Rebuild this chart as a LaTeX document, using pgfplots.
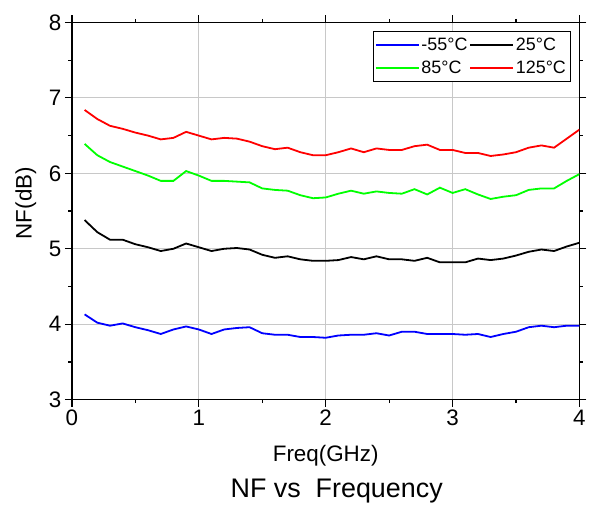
\documentclass[border=0pt]{standalone}
\usepackage{fontspec}
\setmainfont{Liberation Sans}
\usepackage{pgfplots}
\pgfplotsset{compat=1.18}
\definecolor{gridgray}{RGB}{200,200,200}
\begin{document}
\begin{tikzpicture}
\path (0,0) rectangle (589bp,504bp);
\begin{axis}[
  at={(72bp,104bp)}, anchor=south west,
  scale only axis, width=508bp, height=377.5bp,
  xmin=0, xmax=4, ymin=3, ymax=8,
  xtick={0,1,2,3,4}, ytick={3,4,5,6,7,8},
  minor x tick num=1, minor y tick num=1,
  tick align=outside,
  major tick length=7bp, minor tick length=3.5bp,
  every tick/.style={black, line width=1.2bp},
  axis line style={black, line width=1.6bp},
  grid=major,
  major grid style={gridgray, line width=0.9bp},
  /pgf/number format/assume math mode=true,
  tick label style={font=\fontsize{22.5}{26}\selectfont},
  every axis x label/.style={at={(axis description cs:0.5,0)}, anchor=center, yshift=-56bp},
  every axis y label/.style={at={(axis description cs:-0.0906,0.521)}, anchor=center, rotate=90},
  label style={font=\fontsize{22.5}{26}\selectfont},
  xlabel={Freq(GHz)},
  ylabel={NF(dB)},
  legend columns=2,
  legend cell align=left,
  legend style={at={(rel axis cs:0.982,0.977)}, anchor=north east,
    draw=black, line width=0.8bp,
    font=\fontsize{18}{20}\selectfont,
    inner xsep=2bp, inner ysep=2bp,
    row sep=0bp,
    /tikz/every even column/.append style={column sep=0bp},
    nodes={inner xsep=2bp, inner ysep=4.5bp}},
  legend image code/.code={\draw[#1, line width=1.5bp] (0bp,0bp) -- (43bp,0bp);},
  clip=true,
]
\addplot[blue, line width=1.8bp] coordinates {
(0.1,4.13)(0.2,4.02)(0.3,3.98)(0.4,4.01)(0.5,3.96)(0.6,3.92)(0.7,3.87)(0.8,3.93)(0.9,3.97)(1.0,3.93)
(1.1,3.87)(1.2,3.93)(1.3,3.95)(1.4,3.96)(1.5,3.88)(1.6,3.86)(1.7,3.86)(1.8,3.83)(1.9,3.83)(2.0,3.82)
(2.1,3.85)(2.2,3.86)(2.3,3.86)(2.4,3.88)(2.5,3.85)(2.6,3.90)(2.7,3.90)(2.8,3.87)(2.9,3.87)(3.0,3.87)
(3.1,3.86)(3.2,3.87)(3.3,3.83)(3.4,3.87)(3.5,3.90)(3.6,3.96)(3.7,3.98)(3.8,3.96)(3.9,3.98)(4.0,3.98)};
\addlegendentry{-55°C}
\addplot[black, line width=1.8bp] coordinates {
(0.1,5.38)(0.2,5.22)(0.3,5.12)(0.4,5.12)(0.5,5.06)(0.6,5.02)(0.7,4.97)(0.8,5.00)(0.9,5.07)(1.0,5.02)
(1.1,4.97)(1.2,5.00)(1.3,5.01)(1.4,4.99)(1.5,4.92)(1.6,4.88)(1.7,4.90)(1.8,4.86)(1.9,4.84)(2.0,4.84)
(2.1,4.85)(2.2,4.89)(2.3,4.86)(2.4,4.90)(2.5,4.86)(2.6,4.86)(2.7,4.84)(2.8,4.88)(2.9,4.82)(3.0,4.82)
(3.1,4.82)(3.2,4.87)(3.3,4.85)(3.4,4.87)(3.5,4.91)(3.6,4.96)(3.7,4.99)(3.8,4.97)(3.9,5.03)(4.0,5.08)};
\addlegendentry{25°C}
\addplot[green, line width=1.8bp] coordinates {
(0.1,6.39)(0.2,6.24)(0.3,6.15)(0.4,6.09)(0.5,6.03)(0.6,5.97)(0.7,5.90)(0.8,5.90)(0.9,6.03)(1.0,5.97)
(1.1,5.90)(1.2,5.90)(1.3,5.89)(1.4,5.88)(1.5,5.80)(1.6,5.78)(1.7,5.77)(1.8,5.71)(1.9,5.67)(2.0,5.68)
(2.1,5.73)(2.2,5.77)(2.3,5.73)(2.4,5.76)(2.5,5.74)(2.6,5.73)(2.7,5.79)(2.8,5.72)(2.9,5.81)(3.0,5.74)
(3.1,5.79)(3.2,5.72)(3.3,5.66)(3.4,5.69)(3.5,5.71)(3.6,5.78)(3.7,5.80)(3.8,5.80)(3.9,5.90)(4.0,5.99)};
\addlegendentry{85°C}
\addplot[red, line width=1.8bp] coordinates {
(0.1,6.84)(0.2,6.72)(0.3,6.63)(0.4,6.59)(0.5,6.54)(0.6,6.50)(0.7,6.45)(0.8,6.47)(0.9,6.55)(1.0,6.50)
(1.1,6.45)(1.2,6.47)(1.3,6.46)(1.4,6.42)(1.5,6.36)(1.6,6.32)(1.7,6.34)(1.8,6.28)(1.9,6.24)(2.0,6.24)
(2.1,6.28)(2.2,6.33)(2.3,6.28)(2.4,6.33)(2.5,6.31)(2.6,6.31)(2.7,6.36)(2.8,6.38)(2.9,6.31)(3.0,6.31)
(3.1,6.27)(3.2,6.27)(3.3,6.23)(3.4,6.25)(3.5,6.28)(3.6,6.34)(3.7,6.37)(3.8,6.34)(3.9,6.46)(4.0,6.58)};
\addlegendentry{125°C}
\end{axis}
\node[font=\fontsize{27}{30}\selectfont] at (337bp,12bp) {NF vs\ \ Frequency};
\end{tikzpicture}
\end{document}
